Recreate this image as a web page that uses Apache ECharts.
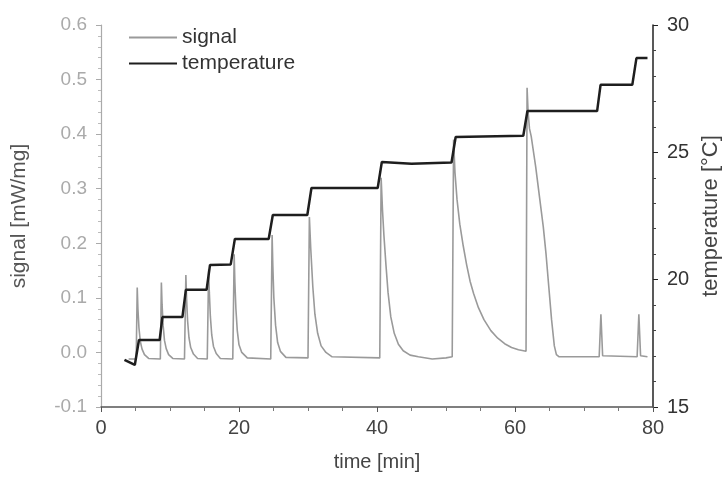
<!DOCTYPE html>
<html>
<head>
<meta charset="utf-8">
<script src="https://cdn.jsdelivr.net/npm/echarts@6/dist/echarts.min.js"></script>
<style>
  html, body { margin: 0; padding: 0; background: #fff; }
  #chart { width: 722px; height: 480px; }
</style>
</head>
<body>
<div id="chart"></div>
<script>
// signal trace (left axis)
const signalTime = [4.0, 5.1, 5.25, 5.35, 5.5, 5.7, 5.95, 6.3, 6.9,
  8.6, 8.75, 8.85, 9.0, 9.2, 9.45, 9.8, 10.4,
  12.1, 12.3, 12.4, 12.55, 12.75, 13.0, 13.4, 14.0,
  15.4, 15.6, 15.7, 15.85, 16.05, 16.3, 16.7, 17.3,
  19.1, 19.3, 19.4, 19.55, 19.75, 20.0, 20.4, 21.2,
  24.6, 24.8, 24.9, 25.05, 25.3, 25.6, 26.0, 26.8,
  30.0, 30.2, 30.4, 30.7, 31.0, 31.4, 31.9, 32.6, 33.5,
  40.4, 40.6, 40.8, 41.0, 41.3, 41.6, 42.0, 42.5, 43.1, 43.8, 44.8, 46.0, 48.0, 50.0,
  50.9, 51.1, 51.3, 51.6, 52.0, 52.5, 53.0, 53.5, 54.0, 54.7, 55.5, 56.5, 57.5, 58.5, 59.5, 60.5, 61.6,
  61.75, 61.9, 62.1, 62.35, 63.0, 63.6, 64.1, 64.5, 64.9, 65.3, 65.7, 66.0, 66.4, 68.0,
  72.2, 72.45, 72.7, 77.7, 77.95, 78.2, 79.2];
const signalValue = [-0.012, -0.012, 0.119, 0.08, 0.045, 0.02, 0.006, -0.004, -0.011,
  -0.012, 0.128, 0.088, 0.05, 0.022, 0.007, -0.004, -0.011,
  -0.012, 0.142, 0.1, 0.058, 0.027, 0.009, -0.003, -0.011,
  -0.012, 0.152, 0.11, 0.066, 0.032, 0.011, -0.002, -0.011,
  -0.012, 0.18, 0.13, 0.08, 0.04, 0.014, 0.0, -0.01,
  -0.012, 0.215, 0.16, 0.1, 0.05, 0.018, 0.002, -0.009,
  -0.01, 0.248, 0.19, 0.12, 0.07, 0.035, 0.012, 0.0, -0.008,
  -0.01, 0.32, 0.26, 0.215, 0.16, 0.11, 0.065, 0.035, 0.015, 0.003, -0.005, -0.008, -0.012, -0.01,
  -0.008, 0.39, 0.33, 0.28, 0.235, 0.195, 0.16, 0.13, 0.108, 0.082, 0.06, 0.04, 0.026, 0.016, 0.009, 0.005, 0.002,
  0.485, 0.44, 0.41, 0.396, 0.34, 0.28, 0.23, 0.18, 0.12, 0.06, 0.012, -0.004, -0.008, -0.008,
  -0.008, 0.07, -0.006, -0.008, 0.07, -0.006, -0.008];

// temperature steps (right axis)
const tempTime = [3.4, 4.9, 5.5, 8.5, 8.9, 11.8, 12.3, 15.3, 15.8, 18.8, 19.4,
  24.3, 24.9, 29.9, 30.5, 40.1, 40.7, 45.0, 50.8, 51.4, 61.2, 61.8,
  71.9, 72.4, 77.0, 77.6, 79.2];
const tempValue = [16.85, 16.65, 17.63, 17.63, 18.53, 18.53, 19.6, 19.6, 20.58, 20.6, 21.6,
  21.6, 22.54, 22.54, 23.6, 23.6, 24.62, 24.55, 24.6, 25.6, 25.65, 26.62,
  26.62, 27.65, 27.65, 28.7, 28.7];

const seriesNames = ['signal', 'temperature'];

const zip = (a, b) => a.map((v, i) => [v, b[i]]);

const font = 'Liberation Sans';
let myChart = echarts.init(document.getElementById('chart'));

const option = {
  backgroundColor: '#fff',
  animation: false,
  textStyle: { fontFamily: font },
  grid: { left: 101, right: 69, top: 25, bottom: 73, outerBoundsMode: 'none' },
  legend: {
    data: seriesNames,
    orient: 'vertical',
    left: 124,
    top: 22,
    icon: 'rect',
    itemWidth: 48,
    itemHeight: 2,
    itemGap: 5,
    textStyle: { fontSize: 21, color: '#333', fontFamily: font }
  },
  xAxis: {
    type: 'value',
    min: 0,
    max: 80,
    interval: 20,
    name: 'time [min]',
    nameLocation: 'middle',
    nameGap: 45,
    nameTextStyle: { fontSize: 20, color: '#444' },
    axisLine: { onZero: false, lineStyle: { color: '#555', width: 1.5 } },
    axisTick: { length: 5, lineStyle: { color: '#555' } },
    minorTick: { show: true, splitNumber: 4, length: 4, lineStyle: { color: '#777' } },
    axisLabel: { fontSize: 20, color: '#444', margin: 11 },
    splitLine: { show: false }
  },
  yAxis: [
    {
      type: 'value',
      min: -0.1,
      max: 0.6,
      interval: 0.1,
      name: 'signal [mW/mg]',
      nameLocation: 'middle',
      nameRotate: 90,
      nameGap: 71,
      nameTextStyle: { fontSize: 21, color: '#555' },
      axisLine: { show: true, lineStyle: { color: '#aaa', width: 1.2 } },
      axisTick: { length: 5, lineStyle: { color: '#aaa' } },
      minorTick: { show: true, splitNumber: 5, length: 3, lineStyle: { color: '#bbb' } },
      axisLabel: {
        fontSize: 19,
        color: '#aaa',
        margin: 14,
        formatter: v => v.toFixed(1)
      },
      splitLine: { show: false }
    },
    {
      type: 'value',
      min: 15,
      max: 30,
      interval: 5,
      position: 'right',
      name: 'temperature [°C]',
      nameLocation: 'middle',
      nameRotate: 90,
      nameGap: 47,
      nameTextStyle: { fontSize: 22, color: '#444' },
      axisLine: { show: true, lineStyle: { color: '#222', width: 1.5 } },
      axisTick: { length: 5, lineStyle: { color: '#222' } },
      minorTick: { show: true, splitNumber: 5, length: 3, lineStyle: { color: '#444' } },
      axisLabel: { fontSize: 20, color: '#333', margin: 14 },
      splitLine: { show: false }
    }
  ],
  series: [
    {
      name: 'signal',
      type: 'line',
      yAxisIndex: 0,
      data: zip(signalTime, signalValue),
      showSymbol: false,
      symbol: 'none',
      lineStyle: { color: '#9a9a9a', width: 1.6 },
      itemStyle: { color: '#9a9a9a' },
      z: 2
    },
    {
      name: 'temperature',
      type: 'line',
      yAxisIndex: 1,
      data: zip(tempTime, tempValue),
      showSymbol: false,
      symbol: 'none',
      lineStyle: { color: '#1e1e1e', width: 2.5 },
      itemStyle: { color: '#1e1e1e' },
      z: 3
    }
  ]
};

myChart.setOption(option, true);
</script>
</body>
</html>
